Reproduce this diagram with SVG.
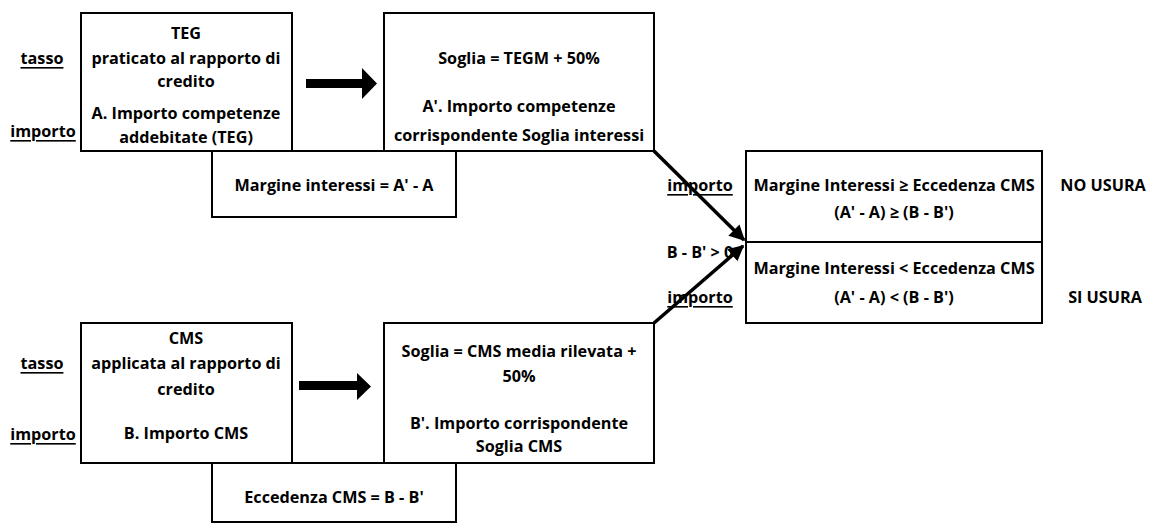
<svg xmlns="http://www.w3.org/2000/svg" width="1152" height="524" viewBox="0 0 1152 524">
<style>
.box{fill:#fff;stroke:#000;stroke-width:2}
text{font-family:"Open Sans","Liberation Sans",Arial,sans-serif;font-weight:bold;font-size:16.2px;fill:#000;text-anchor:middle;dominant-baseline:central}
.u{text-decoration:underline}
.blk{fill:#000}
.con{stroke:#000;stroke-width:3.5;fill:none;marker-end:url(#ah)}
</style>
<defs>
<marker id="ah" viewBox="0 0 10 10" refX="9" refY="5" markerWidth="4.5" markerHeight="4.5" orient="auto" markerUnits="strokeWidth">
<path d="M0,0 L10,5 L0,10 z" fill="#000"/>
</marker>
</defs>
<g id="labels">
<text class="u" x="42" y="58">tasso</text>
<text class="u" x="43" y="131">importo</text>
<text class="u" x="42" y="363">tasso</text>
<text class="u" x="43" y="434">importo</text>
<text class="u" x="700" y="185">importo</text>
<text x="700" y="252">B - B' &gt; 0</text>
<text class="u" x="700" y="297">importo</text>
<text x="1103" y="185">NO USURA</text>
<text x="1105" y="297">SI USURA</text>
</g>
<g id="teg">
<rect class="box" x="81" y="13" width="211" height="138"/>
<text x="186" y="33">TEG</text>
<text x="186" y="58">praticato al rapporto di</text>
<text x="186" y="81">credito</text>
<text x="186" y="113">A. Importo competenze</text>
<text x="186" y="137">addebitate  (TEG)</text>
</g>
<g id="soglia-teg">
<rect class="box" x="384" y="13" width="270" height="138"/>
<text x="519" y="58">Soglia = TEGM + 50%</text>
<text x="519" y="106">A'. Importo competenze</text>
<text x="519" y="135">corrispondente Soglia interessi</text>
</g>
<g id="margine">
<rect class="box" x="212" y="151" width="244" height="66"/>
<text x="334" y="185">Margine interessi = A' - A</text>
</g>
<g id="cms">
<rect class="box" x="81" y="323" width="211" height="140"/>
<text x="186" y="338">CMS</text>
<text x="186" y="363">applicata al rapporto di</text>
<text x="186" y="389">credito</text>
<text x="186" y="433">B. Importo CMS</text>
</g>
<g id="soglia-cms">
<rect class="box" x="384" y="323" width="270" height="140"/>
<text x="519" y="351">Soglia = CMS media rilevata +</text>
<text x="519" y="376">50%</text>
<text x="519" y="423">B'. Importo corrispondente</text>
<text x="519" y="446">Soglia CMS</text>
</g>
<g id="eccedenza">
<rect class="box" x="212" y="463" width="244" height="59"/>
<text x="334" y="497">Eccedenza CMS = B - B'</text>
</g>
<g id="esito">
<rect class="box" x="746" y="151" width="296" height="172"/>
<line x1="746" y1="242" x2="1042" y2="242" stroke="#000" stroke-width="2"/>
<text x="894" y="185">Margine Interessi ≥ Eccedenza CMS</text>
<text x="894" y="212">(A' - A) ≥ (B - B')</text>
<text x="894" y="268">Margine Interessi &lt; Eccedenza CMS</text>
<text x="894" y="297">(A' - A) &lt; (B - B')</text>
</g>
<g id="connectors">
<path class="blk" d="M306,79 H362 V68 L377,83.5 L362,99 V88 H306 Z"/>
<path class="blk" d="M299,381 H357 V373 L371,386.5 L357,400 V390 H299 Z"/>
<line class="con" x1="654" y1="151" x2="744" y2="240"/>
<line class="con" x1="654" y1="323" x2="743" y2="246"/>
</g>
</svg>
